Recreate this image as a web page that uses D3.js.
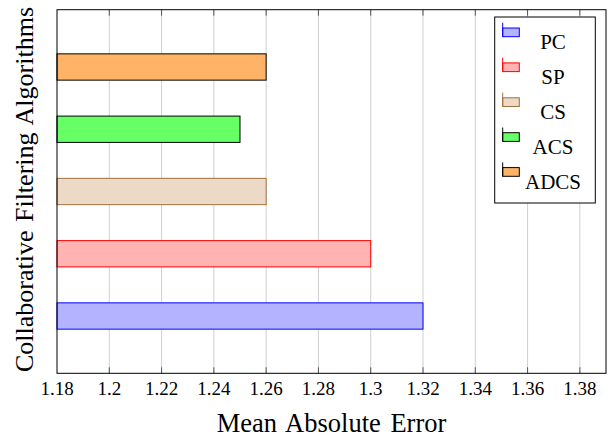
<!DOCTYPE html>
<html>
<head>
<meta charset="utf-8">
<script src="https://cdn.jsdelivr.net/npm/d3@7"></script>
<style>
  body { margin: 0; background: #fff; }
  svg { display: block; }
</style>
</head>
<body>
<div id="chart"></div>
<script>
const categories = ['PC', 'SP', 'CS', 'ACS', 'ADCS'];
const mae = [1.32, 1.30, 1.26, 1.25, 1.26];
const xTicks = [1.18, 1.2, 1.22, 1.24, 1.26, 1.28, 1.3, 1.32, 1.34, 1.36, 1.38];
const xDomain = [1.18, 1.39];
const fills = ['#b3b3ff', '#ffb3b3', '#ecd9c6', '#66ff66', '#ffb366'];
const strokes = ['#0000ff', '#ff0000', '#a0703f', '#000000', '#000000'];

const FONT = '"Liberation Serif"';

const W = 610, H = 439;
const margin = { top: 9.7, right: 4, bottom: 65.7, left: 57 };
const width = W - margin.left - margin.right;
const height = H - margin.top - margin.bottom;

const svg = d3.select('#chart').append('svg')
  .attr('width', W)
  .attr('height', H);

const g = svg.append('g')
  .attr('transform', `translate(${margin.left},${margin.top})`);

const x = d3.scaleLinear().domain(xDomain).range([0, width]);
const y = d3.scaleBand()
  .domain(categories.slice().reverse())
  .range([0, height])
  .paddingInner(0.5775)
  .paddingOuter(0.709);

// grid
g.selectAll('.grid')
  .data(xTicks.slice(1))
  .enter().append('line')
  .attr('x1', d => x(d)).attr('x2', d => x(d))
  .attr('y1', 0).attr('y2', height)
  .attr('stroke', '#cfcfcf')
  .attr('stroke-width', 1);

// bars
const data = categories.map((c, i) => ({ name: c, value: mae[i], fill: fills[i], stroke: strokes[i] }));
g.selectAll('.bar')
  .data(data)
  .enter().append('rect')
  .attr('class', 'bar')
  .attr('x', x(xDomain[0]))
  .attr('y', d => y(d.name))
  .attr('width', d => x(d.value) - x(xDomain[0]))
  .attr('height', y.bandwidth())
  .attr('fill', d => d.fill)
  .attr('stroke', d => d.stroke)
  .attr('stroke-width', 1);

// ticks inside top and bottom
g.selectAll('.tickb')
  .data(xTicks.slice(1))
  .enter().append('line')
  .attr('x1', d => x(d)).attr('x2', d => x(d))
  .attr('y1', height).attr('y2', height - 6)
  .attr('stroke', '#555');
g.selectAll('.tickt')
  .data(xTicks.slice(1))
  .enter().append('line')
  .attr('x1', d => x(d)).attr('x2', d => x(d))
  .attr('y1', 0).attr('y2', 6)
  .attr('stroke', '#555');

// frame
g.append('rect')
  .attr('width', width)
  .attr('height', height)
  .attr('fill', 'none')
  .attr('stroke', '#000')
  .attr('stroke-width', 1);

// tick labels
g.selectAll('.tl')
  .data(xTicks)
  .enter().append('text')
  .attr('x', d => x(d))
  .attr('y', height + 21.7)
  .attr('text-anchor', 'middle')
  .attr('font-family', FONT)
  .attr('font-size', 19)
  .text(d => String(+d.toFixed(2)));

// axis titles
svg.append('text')
  .attr('x', margin.left + x(1.285))
  .attr('y', 431.7)
  .attr('text-anchor', 'middle')
  .attr('font-family', FONT)
  .attr('font-size', 26.5)
  .attr('word-spacing', 3)
  .text('Mean Absolute Error');

svg.append('text')
  .attr('transform', `translate(33,${margin.top + height / 2 - 2}) rotate(-90)`)
  .attr('text-anchor', 'middle')
  .attr('font-family', FONT)
  .attr('font-size', 26)
  .attr('word-spacing', 2)
  .text('Collaborative Filtering Algorithms');

// legend
const legend = svg.append('g');
legend.append('rect')
  .attr('x', 494.7).attr('y', 17)
  .attr('width', 100.6).attr('height', 186)
  .attr('fill', '#fff')
  .attr('stroke', '#000')
  .attr('stroke-width', 1);

const items = legend.selectAll('.item')
  .data(data)
  .enter().append('g')
  .attr('transform', (d, i) => `translate(0,${49.3 + i * 34.9})`);

items.append('rect')
  .attr('x', 502.7).attr('y', -21.3)
  .attr('width', 16.6).attr('height', 8.7)
  .attr('fill', d => d.fill)
  .attr('stroke', d => d.stroke);
items.append('line')
  .attr('x1', 502.7).attr('x2', 502.7)
  .attr('y1', -26.5).attr('y2', -12.6)
  .attr('stroke', d => d.stroke);
items.append('text')
  .attr('x', 553)
  .attr('y', 0)
  .attr('text-anchor', 'middle')
  .attr('font-family', FONT)
  .attr('font-size', 21)
  .text(d => d.name);
</script>
</body>
</html>
